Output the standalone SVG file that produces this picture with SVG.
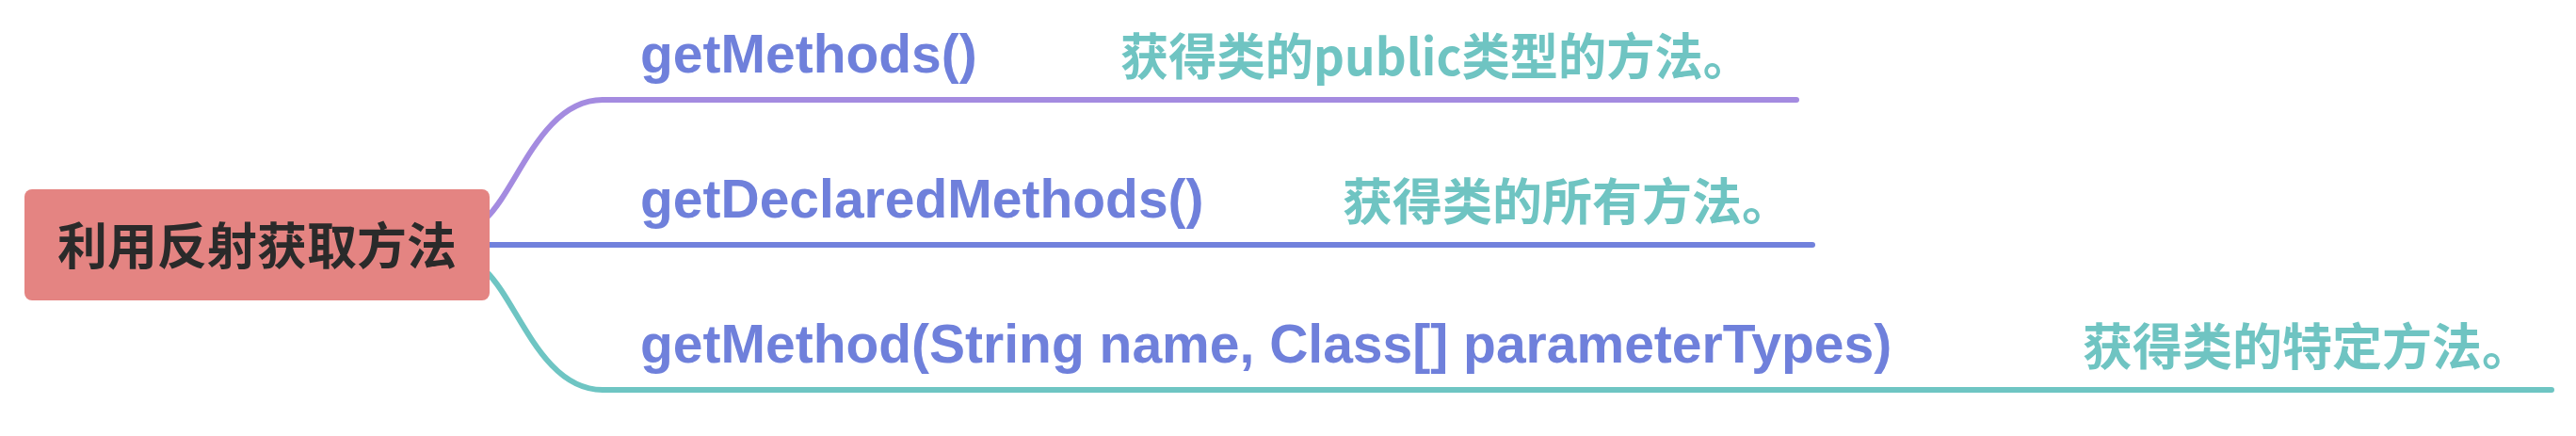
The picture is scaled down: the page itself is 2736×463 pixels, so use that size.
<svg xmlns="http://www.w3.org/2000/svg" width="2736" height="463" viewBox="0 0 2736 463">
<style>
.method{font-family:"Liberation Sans","Noto Sans CJK SC",sans-serif;font-weight:bold;font-size:57px;fill:#6f80db}
.desc{font-family:"Noto Sans CJK SC",sans-serif;font-weight:bold;font-size:53px;fill:#6fc4c2}
.root{font-family:"Noto Sans CJK SC",sans-serif;font-weight:bold;font-size:53px;fill:#2a2a2a}
.conn{fill:none;stroke-width:6;stroke-linecap:round}
</style>
<rect width="2736" height="463" fill="#ffffff"/>
<g id="connectors">
<path class="conn" stroke="#a48be0" d="M 516 232 C 550 200, 575 106, 640 106 L 1908 106"/>
<path class="conn" stroke="#7181dc" d="M 516 260 L 1925 260"/>
<path class="conn" stroke="#6ec5c3" d="M 516 288 C 550 320, 575 414, 640 414 L 2710 414"/>
</g>
<g id="root">
<rect x="26" y="201" width="494" height="118" rx="8" fill="#e48482"/>
<text class="root" x="273" y="281" text-anchor="middle">利用反射获取方法</text>
</g>
<g id="node1">
<text class="method" x="680" y="77">getMethods()</text>
<text class="desc" x="1190" y="80" textLength="670" lengthAdjust="spacingAndGlyphs">获得类的public类型的方法。</text>
</g>
<g id="node2">
<text class="method" x="680" y="231">getDeclaredMethods()</text>
<text class="desc" x="1426" y="234">获得类的所有方法。</text>
</g>
<g id="node3">
<text class="method" x="680" y="385">getMethod(String name, Class[] parameterTypes)</text>
<text class="desc" x="2212" y="388">获得类的特定方法。</text>
</g>
</svg>
